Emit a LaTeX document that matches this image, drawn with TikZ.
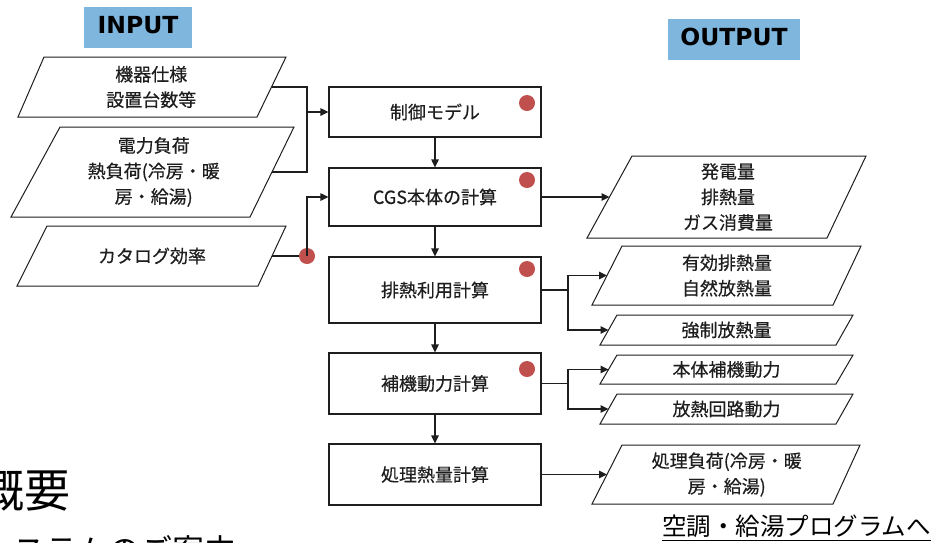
\documentclass[tikz,border=0pt]{standalone}
\usepackage{fontspec}
\newfontfamily\jp{Noto Sans CJK JP}
\newfontfamily\jpm[FakeBold=0.4]{Noto Sans CJK JP}
\newfontfamily\hd{DejaVu Sans}
\usetikzlibrary{arrows.meta,calc}
\definecolor{hdrblue}{RGB}{127,182,222}
\definecolor{dotred}{RGB}{192,80,77}
\definecolor{ink}{RGB}{30,30,30}
\tikzset{
  pline/.style={draw=ink, line width=1pt, line join=miter},
  ptext/.style={align=center, inner sep=0pt, text=ink, font=\jpm\fontsize{18}{25.5}\selectfont},
  cbox/.style={draw=ink, line width=1.2pt, fill=white, minimum width=212pt, inner sep=0pt,
    text=ink, font=\jpm\fontsize{18}{25}\selectfont},
  hdr/.style={fill=hdrblue, inner sep=0pt, text height=18pt, text depth=6pt,
    font=\hd\bfseries\fontsize{23.5}{28}\selectfont, text=black},
  conn/.style={draw=ink, line width=1.2pt},
  arr/.style={conn, -{Triangle[length=8pt,width=7.5pt]}},
  rdot/.style={circle, fill=dotred, minimum size=16pt, inner sep=0pt},
}
\newcommand{\pgram}[8]{%
  \draw[pline] (#4,#2) -- (#5,#2) -- (#7,#3) -- (#6,#3) -- cycle;
  \coordinate (#1-w) at ($(#4,#2)!0.5!(#6,#3)$);
  \coordinate (#1-e) at ($(#5,#2)!0.5!(#7,#3)$);
  \node[ptext] (#1) at ($(#1-w)!0.5!(#1-e)$) {#8};
}
\begin{document}
\begin{tikzpicture}[x=1pt,y=-1pt]
\useasboundingbox (0,0) rectangle (933,542);
\clip (0,0) rectangle (933,542);
\fill[white] (0,0) rectangle (933,542);

% headers
\node[hdr, minimum width=108pt, minimum height=41pt] (inp) at (138,27.5) {INPUT};
\node[hdr, minimum width=132pt, minimum height=41pt] (outp) at (734,39.5) {OUTPUT};

% input parallelograms
\pgram{in1}{57}{117}{44}{286}{18}{257}{機器仕様\\設置台数等}
\pgram{in2}{127}{217}{60}{294}{11}{250}{電力負荷\\熱負荷(冷房・暖\\房・給湯)}
\pgram{in3}{226}{286}{47}{286}{17}{258}{カタログ効率}

% centre boxes
\node[cbox, minimum height=50pt] (ctrl) at (435,112) {制御モデル};
\node[cbox, minimum height=58pt] (cgs) at (435,197) {CGS本体の計算};
\node[cbox, minimum height=66pt] (hai) at (435,290) {排熱利用計算};
\node[cbox, minimum height=61pt] (hoki) at (435,383.5) {補機動力計算};
\node[cbox, minimum height=61pt] (shori) at (435,474.5) {処理熱量計算};

% red dots in boxes
\node[rdot] (d1) at (527,103) {};
\node[rdot] (d2) at (527,180) {};
\node[rdot] (d3) at (527,269) {};
\node[rdot] (d4) at (527,369) {};

% output parallelograms
\pgram{o1}{156}{238}{632}{866}{587}{827}{発電量\\排熱量\\ガス消費量}
\pgram{o2}{246}{305}{622}{861}{592}{833}{有効排熱量\\自然放熱量}
\pgram{o3}{315}{345}{617}{853}{600}{836}{強制放熱量}
\pgram{o4}{355}{384}{617}{853}{600}{836}{本体補機動力}
\pgram{o5}{394}{424}{617}{853}{600}{836}{放熱回路動力}
\pgram{o6}{445}{504}{622}{860}{592}{833}{処理負荷(冷房・暖\\房・給湯)}

% input connectors
\coordinate (j1) at (307,112);
\draw[conn] (in1-e) -| (j1);
\draw[conn] (in2-e) -| (j1);
\draw[arr] (j1) -- (ctrl.west);
\node[rdot] (d0) at (307,256) {};
\draw[conn] (in3-e) -- (d0);
\draw[arr] (d0.center) |- (cgs.west);

% vertical flow
\draw[arr] (ctrl.south) -- (cgs.north);
\draw[arr] (cgs.south) -- (hai.north);
\draw[arr] (hai.south) -- (hoki.north);
\draw[arr] (hoki.south) -- (shori.north);

% outputs
\draw[arr] (cgs.east) -- (o1-w);
\coordinate (j2) at (568,290);
\draw[conn] (hai.east) -- (j2);
\draw[arr] (j2) |- (o2-w);
\draw[arr] (j2) |- (o3-w);
\coordinate (j3) at (568,383.5);
\draw[conn] (hoki.east) -- (j3);
\draw[arr] (j3) |- (o4-w);
\draw[arr] (j3) |- (o5-w);
\draw[arr] (shori.east) -- (o6-w);

% page texts (cropped)
\node[anchor=base west, inner sep=0pt, font=\jp\fontsize{46}{50}\selectfont, text=black] (gaiyo) at (-22,507) {概要};
\node[anchor=base west, inner sep=0pt, font=\jp\fontsize{32}{36}\selectfont, text=black] (annai) at (-19,562) {システムのご案内};
\node[anchor=base west, inner sep=0pt, font=\jp\fontsize{24.5}{28}\selectfont, text=black] (link) at (662,535) {空調・給湯プログラムへ};
\draw[black, line width=1pt] ([yshift=-5.5pt]link.base west) -- ([yshift=-5.5pt]link.base east);
\end{tikzpicture}
\end{document}
